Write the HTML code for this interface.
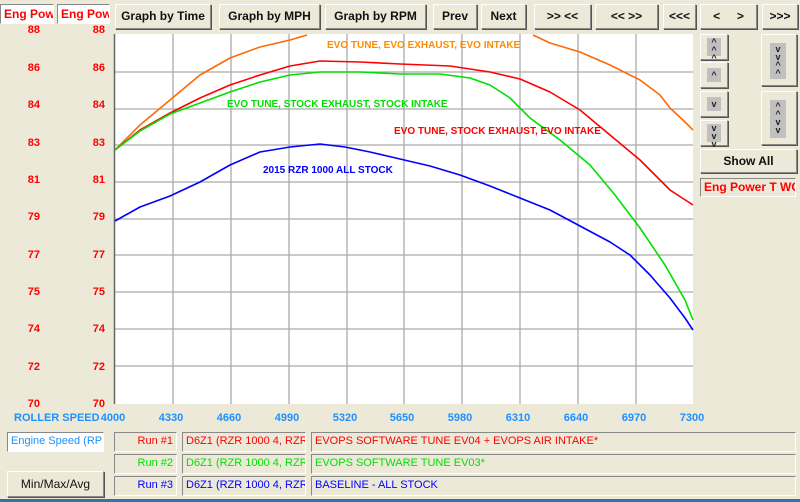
<!DOCTYPE html>
<html><head><style>
body{margin:0;width:800px;height:502px;background:#ece9d8;font-family:"Liberation Sans",sans-serif;position:relative;overflow:hidden}
.a{position:absolute}
.btn{position:absolute;background:#ece9d8;border:1px solid #fff;border-right-color:#888;border-bottom-color:#888;box-shadow:1px 1px 0 #555;font-size:12px;font-weight:bold;color:#111;text-align:center;box-sizing:border-box}
.in{position:absolute;background:#c0c0c0;font-size:9px;line-height:8px;color:#222;text-align:center;font-weight:bold}
.yl{position:absolute;color:#f00;font-size:11px;font-weight:bold;text-align:right;width:20px}
.xl{position:absolute;color:#1e90ff;font-size:11px;font-weight:bold;width:40px;text-align:center;top:412px}
.box{position:absolute;border:1px solid #888;border-right-color:#fff;border-bottom-color:#fff;box-sizing:border-box;font-size:11px;padding:2px 3px;white-space:nowrap;overflow:hidden;background:#ece9d8}
</style></head><body>
<div class="box" style="left:0;top:4px;width:54px;height:20px;color:#f00;font-weight:bold;font-size:12px;background:#fff">Eng Power</div>
<div class="box" style="left:57px;top:4px;width:53px;height:20px;color:#f00;font-weight:bold;font-size:12px;background:#fff">Eng Power</div>
<div class="btn" style="left:115px;top:4px;width:96px;height:25px;line-height:23px">Graph by Time</div>
<div class="btn" style="left:219px;top:4px;width:101px;height:25px;line-height:23px">Graph by MPH</div>
<div class="btn" style="left:325px;top:4px;width:101px;height:25px;line-height:23px">Graph by RPM</div>
<div class="btn" style="left:433px;top:4px;width:44px;height:25px;line-height:23px">Prev</div>
<div class="btn" style="left:481px;top:4px;width:45px;height:25px;line-height:23px">Next</div>
<div class="btn" style="left:534px;top:4px;width:57px;height:25px;line-height:23px">&gt;&gt; &lt;&lt;</div>
<div class="btn" style="left:595px;top:4px;width:63px;height:25px;line-height:23px">&lt;&lt; &gt;&gt;</div>
<div class="btn" style="left:663px;top:4px;width:33px;height:25px;line-height:23px">&lt;&lt;&lt;</div>
<div class="btn" style="left:700px;top:4px;width:57px;height:25px;line-height:23px">&lt; &nbsp; &nbsp; &gt;</div>
<div class="btn" style="left:762px;top:4px;width:36px;height:25px;line-height:23px">&gt;&gt;&gt;</div>
<div class="btn" style="left:700px;top:34px;width:28px;height:26px"><div class="in" style="left:6px;top:3px;width:14px;height:18px">^<br>^<br>^</div></div>
<div class="btn" style="left:700px;top:62px;width:28px;height:26px"><div class="in" style="left:6px;top:5px;width:14px;height:14px;line-height:14px">^</div></div>
<div class="btn" style="left:700px;top:91px;width:28px;height:26px"><div class="in" style="left:6px;top:5px;width:14px;height:14px;line-height:14px">v</div></div>
<div class="btn" style="left:700px;top:120px;width:28px;height:26px"><div class="in" style="left:6px;top:3px;width:14px;height:18px">v<br>v<br>v</div></div>
<div class="btn" style="left:761px;top:34px;width:36px;height:52px"><div class="in" style="left:8px;top:8px;width:16px;height:34px;line-height:8px;padding-top:2px">v<br>v<br>^<br>^</div></div>
<div class="btn" style="left:761px;top:91px;width:36px;height:54px"><div class="in" style="left:8px;top:8px;width:16px;height:36px;line-height:8px;padding-top:2px">^<br>^<br>v<br>v</div></div>
<div class="btn" style="left:700px;top:149px;width:97px;height:24px;line-height:22px">Show All</div>
<div class="box" style="left:700px;top:178px;width:96px;height:19px;color:#f00;font-weight:bold;font-size:12px;padding:1px 3px">Eng Power T WC</div>

<div class="yl" style="left:20px;top:24px">88</div><div class="yl" style="left:85px;top:24px">88</div>
<div class="yl" style="left:20px;top:62px">86</div><div class="yl" style="left:85px;top:62px">86</div>
<div class="yl" style="left:20px;top:99px">84</div><div class="yl" style="left:85px;top:99px">84</div>
<div class="yl" style="left:20px;top:137px">83</div><div class="yl" style="left:85px;top:137px">83</div>
<div class="yl" style="left:20px;top:174px">81</div><div class="yl" style="left:85px;top:174px">81</div>
<div class="yl" style="left:20px;top:211px">79</div><div class="yl" style="left:85px;top:211px">79</div>
<div class="yl" style="left:20px;top:249px">77</div><div class="yl" style="left:85px;top:249px">77</div>
<div class="yl" style="left:20px;top:286px">75</div><div class="yl" style="left:85px;top:286px">75</div>
<div class="yl" style="left:20px;top:323px">74</div><div class="yl" style="left:85px;top:323px">74</div>
<div class="yl" style="left:20px;top:361px">72</div><div class="yl" style="left:85px;top:361px">72</div>
<div class="yl" style="left:20px;top:398px">70</div><div class="yl" style="left:85px;top:398px">70</div>

<svg class="a" style="left:0;top:0" width="800" height="502">
<rect x="114" y="34" width="579" height="370" fill="#fff"/>
<g stroke="#aaa" stroke-width="1.3">
<line x1="114" x2="693" y1="72" y2="72"/><line x1="114" x2="693" y1="109" y2="109"/><line x1="114" x2="693" y1="145" y2="145"/><line x1="114" x2="693" y1="182" y2="182"/><line x1="114" x2="693" y1="219" y2="219"/><line x1="114" x2="693" y1="255" y2="255"/><line x1="114" x2="693" y1="292" y2="292"/><line x1="114" x2="693" y1="329" y2="329"/><line x1="114" x2="693" y1="366" y2="366"/>
<line y1="34" y2="404" x1="173" x2="173"/><line y1="34" y2="404" x1="231" x2="231"/><line y1="34" y2="404" x1="289" x2="289"/><line y1="34" y2="404" x1="347" x2="347"/><line y1="34" y2="404" x1="404" x2="404"/><line y1="34" y2="404" x1="462" x2="462"/><line y1="34" y2="404" x1="520" x2="520"/><line y1="34" y2="404" x1="578" x2="578"/><line y1="34" y2="404" x1="636" x2="636"/>
</g>
<line x1="114.5" y1="34" x2="114.5" y2="404" stroke="#666" stroke-width="1.5"/>
<g fill="none" stroke-width="1.6" stroke-linejoin="round">
<polyline stroke="#ff6a00" points="115,150 140,125 170,100 200,75 230,58 260,47 290,40 307,35"/>
<polyline stroke="#ff6a00" points="533,35 550,43 580,52 610,65 640,80 660,95 670,108 685,122 693,130"/>
<polyline stroke="#f00" points="115,150 140,130 170,113 200,98 230,85 260,75 290,66 320,61 360,62 400,64 450,66 490,72 520,79 550,92 580,110 610,135 640,160 670,190 693,205"/>
<polyline stroke="#00e000" points="115,150 140,131 170,114 200,103 230,92 260,82 290,75 320,72 360,72 400,74 440,74 470,78 490,85 510,98 530,118 560,140 590,165 615,195 640,228 665,265 685,300 693,320"/>
<polyline stroke="#0000ff" points="115,221 140,207 170,196 200,182 230,165 260,152 290,147 320,144 345,147 370,152 400,159 430,166 460,175 490,186 520,198 550,210 580,226 610,242 630,255 650,275 670,298 685,318 693,330"/>
</g>
<g font-family="Liberation Sans" font-weight="bold" font-size="10">
<text x="327" y="48" fill="#ff8c00">EVO TUNE, EVO EXHAUST, EVO INTAKE</text>
<text x="227" y="107" fill="#00e000">EVO TUNE, STOCK EXHAUST, STOCK INTAKE</text>
<text x="394" y="134" fill="#f00">EVO TUNE, STOCK EXHAUST, EVO INTAKE</text>
<text x="263" y="173" fill="#0000ff">2015 RZR 1000 ALL STOCK</text>
</g>
</svg>

<div class="a" style="left:14px;top:412px;color:#1e90ff;font-size:11px;font-weight:bold">ROLLER SPEED</div>
<div class="xl" style="left:93px">4000</div><div class="xl" style="left:151px">4330</div><div class="xl" style="left:209px">4660</div><div class="xl" style="left:267px">4990</div><div class="xl" style="left:325px">5320</div><div class="xl" style="left:382px">5650</div><div class="xl" style="left:440px">5980</div><div class="xl" style="left:498px">6310</div><div class="xl" style="left:556px">6640</div><div class="xl" style="left:614px">6970</div><div class="xl" style="left:672px">7300</div>

<div class="box" style="left:7px;top:432px;width:97px;height:20px;color:#1e90ff;background:#fff">Engine Speed (RPM)</div>
<div class="btn" style="left:7px;top:471px;width:97px;height:26px;line-height:24px;font-weight:normal">Min/Max/Avg</div>
<div class="box" style="left:114px;top:432px;width:63px;height:20px;color:#f00;text-align:right">Run #1</div>
<div class="box" style="left:114px;top:454px;width:63px;height:20px;color:#00e000;text-align:right">Run #2</div>
<div class="box" style="left:114px;top:476px;width:63px;height:20px;color:#0000ff;text-align:right">Run #3</div>
<div class="box" style="left:182px;top:432px;width:124px;height:20px;color:#f00">D6Z1 (RZR 1000 4, RZR</div>
<div class="box" style="left:182px;top:454px;width:124px;height:20px;color:#00e000">D6Z1 (RZR 1000 4, RZR</div>
<div class="box" style="left:182px;top:476px;width:124px;height:20px;color:#0000ff">D6Z1 (RZR 1000 4, RZR</div>
<div class="box" style="left:311px;top:432px;width:485px;height:20px;color:#f00">EVOPS SOFTWARE TUNE EV04 + EVOPS AIR INTAKE*</div>
<div class="box" style="left:311px;top:454px;width:485px;height:20px;color:#00e000">EVOPS SOFTWARE TUNE EV03*</div>
<div class="box" style="left:311px;top:476px;width:485px;height:20px;color:#0000ff">BASELINE - ALL STOCK</div>
<div class="a" style="left:0;top:499px;width:800px;height:3px;background:#3a6ea5"></div>
</body></html>
